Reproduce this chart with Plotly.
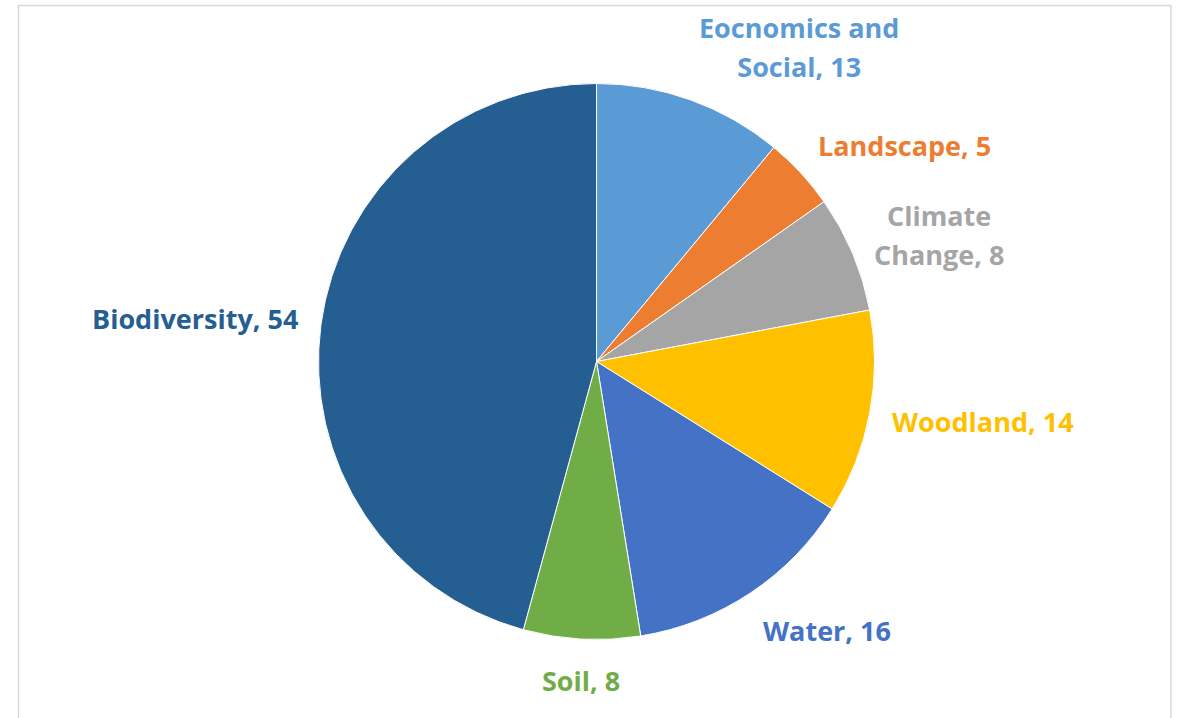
import math
import plotly.graph_objects as go

# Topic counts, listed clockwise from 12 o'clock
categories = ["Eocnomics and Social", "Landscape", "Climate Change", "Woodland",
              "Water", "Soil", "Biodiversity"]
label_lines = [["Eocnomics and", "Social"], ["Landscape"], ["Climate", "Change"],
               ["Woodland"], ["Water"], ["Soil"], ["Biodiversity"]]
counts = [13, 5, 8, 14, 16, 8, 54]
colors = ["#5B9BD5", "#ED7D31", "#A5A5A5", "#FFC000", "#4472C4", "#70AD47", "#255E91"]

W, H = 1183, 718
CX, CY, R = 596.5, 361.5, 278          # pie centre and radius in pixels
GAP = 22                                # distance of labels from the rim
FONT = "Open Sans, Segoe UI, sans-serif"
FS = 27

fig = go.Figure(go.Pie(
    labels=categories,
    values=counts,
    sort=False,
    direction="clockwise",
    rotation=0,
    marker=dict(colors=colors, line=dict(color="white", width=1)),
    textinfo="none",
    hoverinfo="label+value",
    showlegend=False,
    domain=dict(x=[(CX - R) / W, (CX + R) / W], y=[1 - (CY + R) / H, 1 - (CY - R) / H]),
))

# Category labels sit just outside the rim, at each slice's mid-angle
annotations = []
total = sum(counts)
cum = 0
for lines, v, c in zip(label_lines, counts, colors):
    theta = (cum + v / 2) / total * 2 * math.pi
    cum += v
    s, co = math.sin(theta), math.cos(theta)
    ax = CX + (R + GAP) * s
    ay = CY - (R + GAP) * co
    xanchor = "left" if s > 0.3 else ("right" if s < -0.3 else "center")
    if co > 0.5:
        yanchor, yshift = "bottom", -7
    elif co < -0.5:
        yanchor, yshift = "top", 0
    else:
        yanchor, yshift = "middle", 26 * co
    text_lines = lines[:-1] + [f"{lines[-1]}, {v}"]
    if len(text_lines) > 1:
        # larger outer size widens the line pitch; spans keep the glyph size
        text = "<br>".join(f"<span style='font-size:{FS}px'><b>{t}</b></span>" for t in text_lines)
        size = 30
    else:
        text = f"<b>{text_lines[0]}</b>"
        size = FS
    annotations.append(dict(
        x=ax / W, y=1 - ay / H, xref="paper", yref="paper", yshift=yshift,
        text=text, showarrow=False, xanchor=xanchor, yanchor=yanchor,
        align="center", borderpad=0,
        font=dict(family=FONT, size=size, color=c),
    ))

fig.update_layout(
    width=W, height=H,
    margin=dict(l=0, r=0, t=0, b=0),
    paper_bgcolor="white",
    plot_bgcolor="white",
    annotations=annotations,
    shapes=[dict(type="rect", xref="paper", yref="paper",
                 x0=18.5 / W, x1=1171 / W, y0=-0.05, y1=1 - 5.5 / H,
                 line=dict(color="#D9D9D9", width=1.5), layer="below")],
)

fig.write_html("out.html")
